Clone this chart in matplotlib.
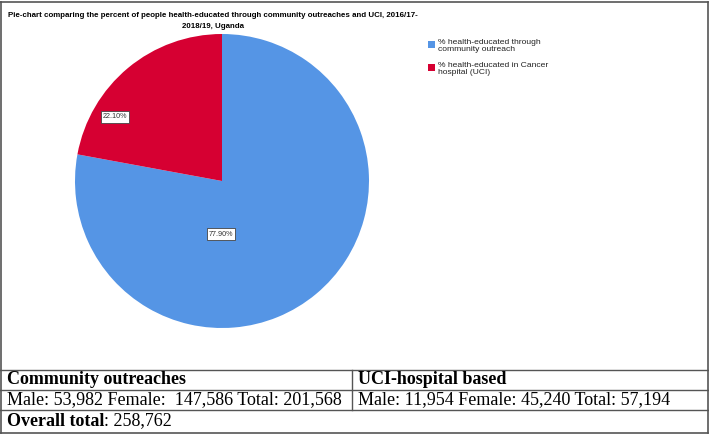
import matplotlib.pyplot as plt
from matplotlib.lines import Line2D
from matplotlib.patches import Rectangle

# data
labels = ["% health-educated through\ncommunity outreach",
          "% health-educated in Cancer\nhospital (UCI)"]
percents = [77.90, 22.10]
colors = ["#5595E5", "#D60032"]

title = ("Pie-chart comparing the percent of people health-educated through community outreaches and UCI, 2016/17-\n"
         "2018/19, Uganda")

table_head = ["Community outreaches", "UCI-hospital based"]
table_row = ["Male: 53,982 Female:  147,586 Total: 201,568",
             "Male: 11,954 Female: 45,240 Total: 57,194"]
overall_label = "Overall total"
overall_value = ": 258,762"

W, H = 709, 434
fig = plt.figure(figsize=(W / 100, H / 100), dpi=100)

def fx(x):
    return x / W

def fy(y):
    return 1 - y / H

# pie
cx, cy, r = 222, 181, 147
ax = fig.add_axes([fx(cx - r), fy(cy + r), 2 * r / W, 2 * r / H])
wedges, _ = ax.pie(percents, colors=colors, startangle=90, counterclock=False,
                   radius=1, wedgeprops=dict(linewidth=0))
ax.set_xlim(-1, 1)
ax.set_ylim(-1, 1)
ax.set_aspect("auto")
ax.axis("off")

# value labels
label_pos = [(221, 234), (115, 117)]
for (px, py), p in zip(label_pos, percents):
    fig.text(fx(px), fy(py), f"{p:.2f}%", fontsize=5.2, family="Liberation Sans",
             ha="center", va="center", color="#333333",
             bbox=dict(boxstyle="square,pad=0.3", fc="white", ec="#444444", lw=0.6))

# title
fig.text(fx(213), fy(21), title, fontsize=5.65, family="Liberation Sans",
         fontweight="bold", ha="center", va="center", linespacing=1.85)

# legend
leg_y = [45, 68]
for y, lab, c in zip(leg_y, labels, colors):
    fig.patches.append(Rectangle((fx(428), fy(y + 3)), 7 / W, 7 / H,
                                 transform=fig.transFigure, fc=c, ec="none"))
    fig.text(fx(438), fy(y - 6), lab, fontsize=6.1, family="Liberation Sans",
             ha="left", va="top", color="#222222", linespacing=1.05)

# outer border
def hline(y, x0=0, x1=W - 1, lw=1.0, c="#555555"):
    fig.add_artist(Line2D([fx(x0), fx(x1)], [fy(y), fy(y)], transform=fig.transFigure,
                          color=c, lw=lw))

def vline(x, y0, y1, lw=1.0, c="#555555"):
    fig.add_artist(Line2D([fx(x), fx(x)], [fy(y0), fy(y1)], transform=fig.transFigure,
                          color=c, lw=lw))

hline(2, lw=1.2)
vline(0.5, 2, 433, lw=1.2)
vline(W - 1.5, 2, 433, lw=1.2)
hline(H - 1, lw=1.2)

# table
for y in [370, 390, 410]:
    hline(y)
vline(352, 370, 410)

fs = 13
fig.text(fx(7), fy(380), table_head[0], fontsize=fs, family="Liberation Serif",
         fontweight="bold", ha="left", va="center")
fig.text(fx(358), fy(380), table_head[1], fontsize=fs, family="Liberation Serif",
         fontweight="bold", ha="left", va="center")
fig.text(fx(7), fy(400), table_row[0], fontsize=fs, family="Liberation Serif",
         ha="left", va="center")
fig.text(fx(358), fy(400), table_row[1], fontsize=fs, family="Liberation Serif",
         ha="left", va="center")
t = fig.text(fx(7), fy(421), overall_label, fontsize=fs, family="Liberation Serif",
             fontweight="bold", ha="left", va="center")
fig.canvas.draw()
bb = t.get_window_extent()
fig.text(bb.x1 / W, fy(421), overall_value, fontsize=fs, family="Liberation Serif",
         ha="left", va="center")

fig.savefig("out.png", dpi=100)
